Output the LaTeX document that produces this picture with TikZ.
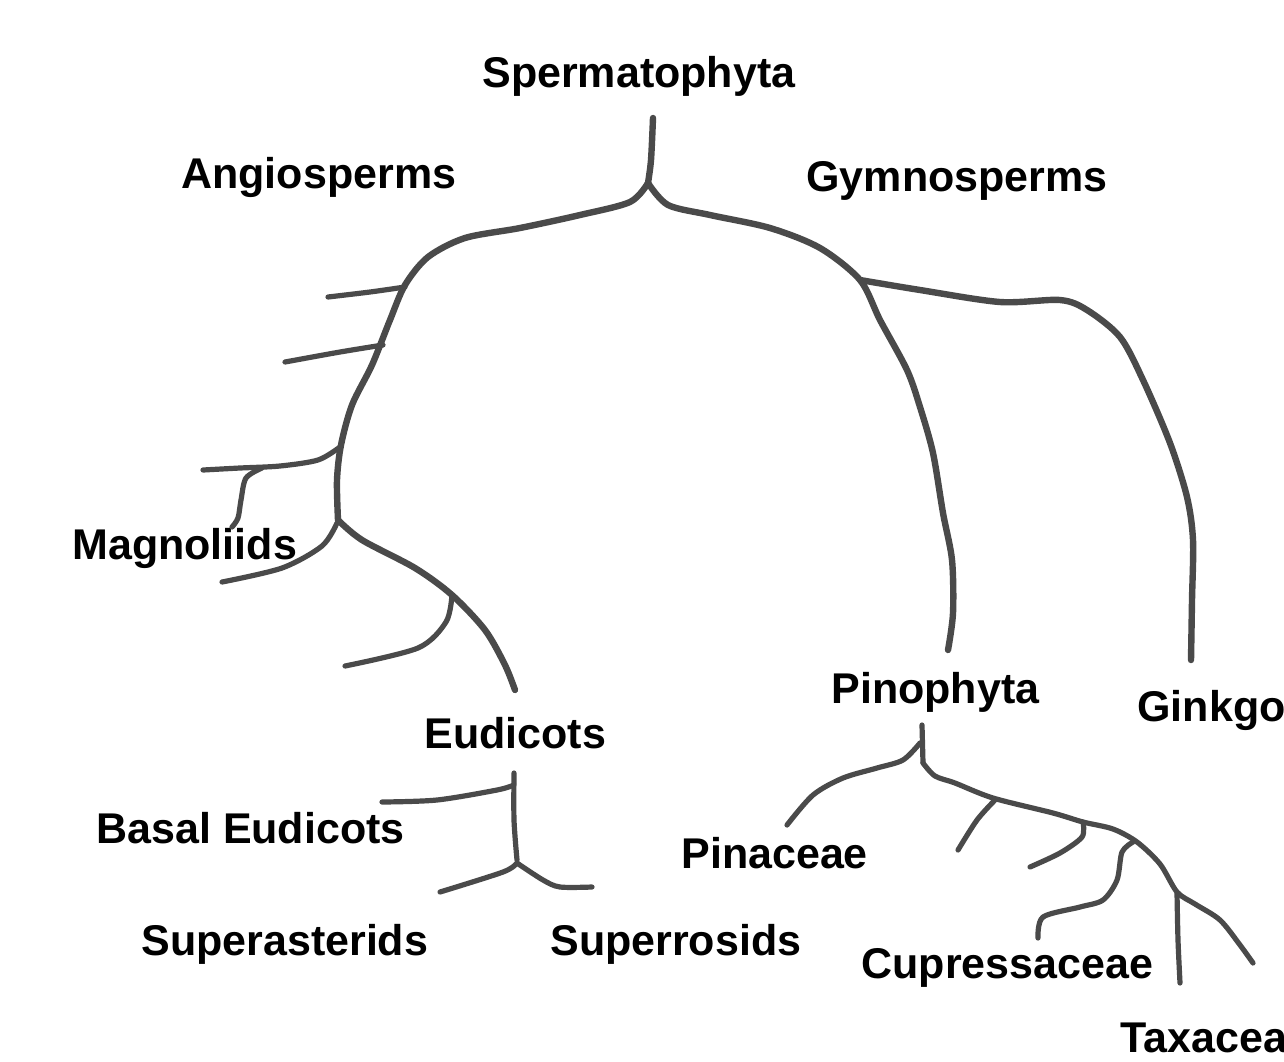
\documentclass[tikz,border=0pt]{standalone}
\usepackage{fontspec}
\setmainfont{Liberation Sans}
\usepackage{tikz}
\usetikzlibrary{positioning}
\definecolor{barkgray}{HTML}{4A4A4A}

\begin{document}
\begin{tikzpicture}[x=0.5pt, y=-0.5pt,
  taxon/.style={anchor=base west, inner sep=0pt, font=\fontsize{21.5}{26}\selectfont\bfseries},
  limb/.style={draw=barkgray, line width=3.2pt, line cap=round, line join=round},
  twig/.style={draw=barkgray, line width=2.6pt, line cap=round, line join=round}]
\useasboundingbox (0,0) rectangle (1284,1061);

% labels
\node[taxon] (sperm) at (482,87) {Spermatophyta};
\node[taxon] (angio) at (181,188) {Angiosperms};
\node[taxon] (gymno) at (806,191) {Gymnosperms};
\node[taxon] (magno) at (72,559) {Magnoliids};
\node[taxon] (eudi) at (424,748) {Eudicots};
\node[taxon] (pino) at (831,703) {Pinophyta};
\node[taxon] (ginkgo) at (1137,721) {Ginkgo};
\node[taxon] (basal) at (96,843) {Basal Eudicots};
\node[taxon] (pinac) at (681,868) {Pinaceae};
\node[taxon] (supast) at (141,955) {Superasterids};
\node[taxon] (suprros) at (550,955) {Superrosids};
\node[taxon] (cupr) at (861,978) {Cupressaceae};
\node[taxon] (taxa) at (1120,1052) {Taxaceae};

% root and angiosperm stem
\draw[limb] plot[smooth] coordinates {(653,118) (651,160) (648,183)};
\draw[limb] plot[smooth] coordinates {(648,183) (630,202) (580,215) (520,228) (465,238)
  (428,257) (405,285) (390,320) (372,365) (352,405) (341,445) (337,480) (338,520)};
\draw[limb] plot[smooth] coordinates {(338,520) (362,540) (415,568) (452,595) (485,630)
  (505,665) (515,690)};

% angiosperm side branches
\draw[twig] plot[smooth] coordinates {(405,287) (370,292) (328,297)};
\draw[twig] plot[smooth] coordinates {(383,345) (340,352) (285,362)};
\draw[twig] plot[smooth] coordinates {(340,447) (318,460) (280,466) (240,468) (203,470)};
\draw[twig] plot[smooth] coordinates {(262,468) (246,478) (241,500) (238,518) (232,527)};
\draw[twig] plot[smooth] coordinates {(337,523) (322,546) (282,568) (222,582)};
\draw[twig] plot[smooth] coordinates {(452,595) (446,622) (418,648) (345,666)};

% gymnosperms
\draw[limb] plot[smooth] coordinates {(648,183) (668,205) (710,215) (770,228) (820,248)
  (860,280) (880,320) (907,370) (920,407) (933,453) (943,513) (952,560) (953,613) (948,650)};
\draw[limb] plot[smooth] coordinates {(860,280) (920,290) (1000,302) (1060,300) (1087,310)
  (1120,337) (1143,380) (1170,443) (1187,497) (1193,540) (1192,600) (1191,660)};

% eudicots
\draw[twig] plot[smooth] coordinates {(514,773) (514,820) (517,860)};
\draw[twig] plot[smooth] coordinates {(514,785) (497,790) (437,800) (382,802)};
\draw[twig] plot[smooth] coordinates {(517,863) (503,872) (440,892)};
\draw[twig] plot[smooth] coordinates {(517,863) (543,880) (560,887) (592,887)};

% pinophyta
\draw[twig] plot[smooth] coordinates {(922,725) (923,763)};
\draw[twig] plot[smooth] coordinates {(920,743) (903,760) (877,768) (843,778) (813,795) (787,825)};
\draw[twig] plot[smooth] coordinates {(923,763) (935,776) (955,783) (993,798) (1053,813)
  (1083,822) (1113,829) (1137,842) (1160,864) (1177,892) (1195,904) (1220,920) (1240,945) (1253,963)};
\draw[twig] plot[smooth] coordinates {(995,800) (977,820) (958,850)};
\draw[twig] plot[smooth] coordinates {(1083,822) (1082,837) (1060,853) (1030,867)};
\draw[twig] plot[smooth] coordinates {(1133,842) (1122,852) (1117,880) (1103,900) (1080,907)
  (1043,917) (1038,938)};
\draw[twig] plot[smooth] coordinates {(1177,893) (1178,940) (1180,983)};
\end{tikzpicture}
\end{document}
